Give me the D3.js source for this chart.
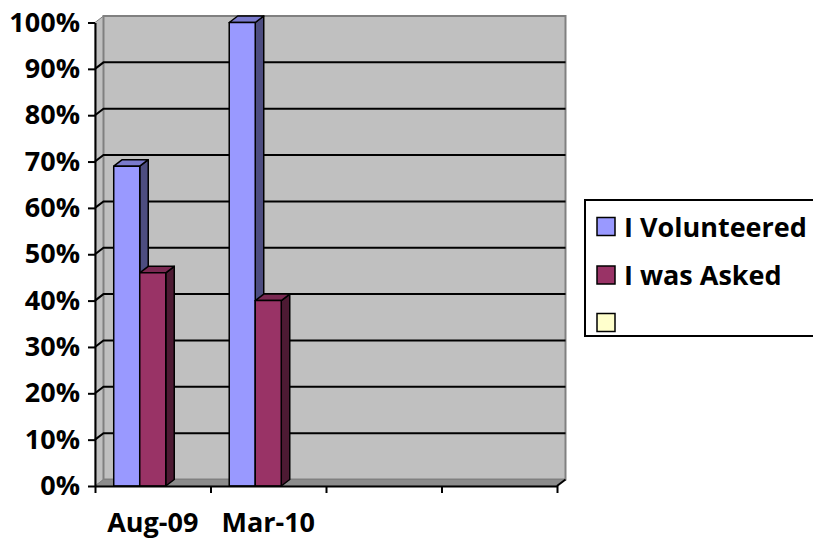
<!DOCTYPE html>
<html>
<head>
<meta charset="utf-8">
<script src="https://cdn.jsdelivr.net/npm/d3@7"></script>
<style>
  body { margin: 0; background: #fff; }
  text { font-family: "Open Sans", Lato, sans-serif; font-weight: bold; }
</style>
</head>
<body>
<div id="chart"></div>
<script>
// chart data
var categories = ["Aug-09", "Mar-10", "", ""];
var seriesNames = ["I Volunteered", "I was Asked", ""];
var volunteered = [0.69, 1.00, null, null];
var asked = [0.46, 0.40, null, null];
var blank = [null, null, null, null];
var yTicks = [0, 0.1, 0.2, 0.3, 0.4, 0.5, 0.6, 0.7, 0.8, 0.9, 1.0];

var seriesValues = [volunteered, asked, blank];
var seriesColors = [
  {front: "#9999FF", side: "#4D4D80", top: "#7A7ACC"},
  {front: "#993366", side: "#4D1A33", top: "#7A2952"},
  {front: "#FFFFCC", side: "#808066", top: "#CCCCA3"}
];

var W = 813, H = 543;
var depthX = 8.5, depthY = -6.5;

var svg = d3.select("#chart")
  .append("svg")
    .attr("width", W)
    .attr("height", H);

var y = d3.scaleLinear().domain([0, 1]).range([486, 22.5]);
var x = d3.scaleBand().domain(d3.range(categories.length)).range([95, 557]);
var xs = d3.scaleBand().domain(d3.range(seriesNames.length))
  .range([0, x.bandwidth()]).paddingInner(0).paddingOuter(0.72);
var xEdge = d3.scaleLinear().domain([0, categories.length]).range([95, 557]);

var x0 = 95, x1 = 557, yTop = y(1), yBot = y(0);

function pts(a) { return a.map(function(p) { return p.join(","); }).join(" "); }

// side wall
svg.append("polygon")
  .attr("points", pts([[x0, yBot], [x0, yTop], [x0 + depthX, yTop + depthY], [x0 + depthX, yBot + depthY]]))
  .attr("fill", "#C0C0C0").attr("stroke", "#808080").attr("stroke-width", 1);
// back wall
svg.append("rect")
  .attr("x", x0 + depthX).attr("y", yTop + depthY)
  .attr("width", x1 - x0).attr("height", yBot - yTop)
  .attr("fill", "#C0C0C0").attr("stroke", "#808080").attr("stroke-width", 2);
// floor
svg.append("polygon")
  .attr("points", pts([[x0, yBot], [x1, yBot], [x1 + depthX, yBot + depthY], [x0 + depthX, yBot + depthY]]))
  .attr("fill", "#8C8C8C").attr("stroke", "#808080").attr("stroke-width", 1);

// gridlines
svg.append("g").selectAll("polyline")
  .data(yTicks.filter(function(d) { return d > 0 && d < 1; }))
  .enter().append("polyline")
    .attr("fill", "none").attr("stroke", "#000").attr("stroke-width", 2)
    .attr("points", function(d) {
      return pts([[x0, y(d)], [x0 + depthX, y(d) + depthY], [x1 + depthX, y(d) + depthY]]);
    });

// bars
var bars = [];
categories.forEach(function(c, i) {
  seriesValues.forEach(function(vals, s) {
    if (vals[i] != null) bars.push({cat: i, s: s, v: vals[i]});
  });
});

var gb = svg.append("g");
bars.forEach(function(b) {
  var bx = x(b.cat) + xs(b.s), bw = xs.bandwidth();
  var ty = y(b.v), by = y(0);
  var col = seriesColors[b.s];
  var g = gb.append("g").attr("stroke", "#000").attr("stroke-width", 1.5).attr("stroke-linejoin", "round");
  g.append("polygon")
    .attr("points", pts([[bx + bw, by], [bx + bw, ty], [bx + bw + depthX, ty + depthY], [bx + bw + depthX, by + depthY]]))
    .attr("fill", col.side);
  g.append("polygon")
    .attr("points", pts([[bx, ty], [bx + bw, ty], [bx + bw + depthX, ty + depthY], [bx + depthX, ty + depthY]]))
    .attr("fill", col.top);
  g.append("rect")
    .attr("x", bx).attr("y", ty).attr("width", bw).attr("height", by - ty)
    .attr("fill", col.front);
});

// y axis
var yAxis = svg.append("g")
  .attr("transform", "translate(" + x0 + ",0)")
  .call(d3.axisLeft(y).tickValues(yTicks).tickFormat(d3.format(".0%")).tickSize(7).tickPadding(8).tickSizeOuter(0));
yAxis.selectAll("path.domain").attr("stroke", "#000").attr("stroke-width", 2);
yAxis.selectAll(".tick line").attr("stroke", "#000").attr("stroke-width", 2);
yAxis.selectAll(".tick text").attr("font-size", 27).attr("fill", "#000")
  .attr("font-family", "'Open Sans', sans-serif").attr("font-weight", "bold");

// x axis (tick marks on category boundaries)
var xAxis = svg.append("g")
  .attr("transform", "translate(0," + yBot + ")")
  .call(d3.axisBottom(xEdge).tickValues(d3.range(categories.length + 1)).tickFormat("").tickSize(7).tickSizeOuter(0));
xAxis.selectAll("path.domain").attr("stroke", "#000").attr("stroke-width", 2);
xAxis.selectAll(".tick line").attr("stroke", "#000").attr("stroke-width", 2);
svg.append("line")
  .attr("x1", x1).attr("y1", yBot).attr("x2", x1 + depthX).attr("y2", yBot + depthY)
  .attr("stroke", "#000").attr("stroke-width", 2);

// category labels
svg.append("g").selectAll("text")
  .data(categories)
  .enter().append("text")
    .attr("x", function(d, i) { return x(i) + x.bandwidth() / 2; })
    .attr("y", 532)
    .attr("text-anchor", "middle")
    .attr("font-size", 27)
    .text(function(d) { return d; });

// legend
var lg = svg.append("g");
lg.append("rect")
  .attr("x", 585).attr("y", 200).attr("width", 240).attr("height", 136)
  .attr("fill", "#fff").attr("stroke", "#000").attr("stroke-width", 2);
var rowY = [226.5, 275, 322.5];
seriesNames.forEach(function(name, i) {
  lg.append("rect")
    .attr("x", 597).attr("y", rowY[i] - 9).attr("width", 18).attr("height", 18)
    .attr("fill", seriesColors[i].front).attr("stroke", "#000").attr("stroke-width", 1.5);
  lg.append("text")
    .attr("x", 624).attr("y", rowY[i] + 10)
    .attr("font-size", 27)
    .text(name);
});
</script>
</body>
</html>
